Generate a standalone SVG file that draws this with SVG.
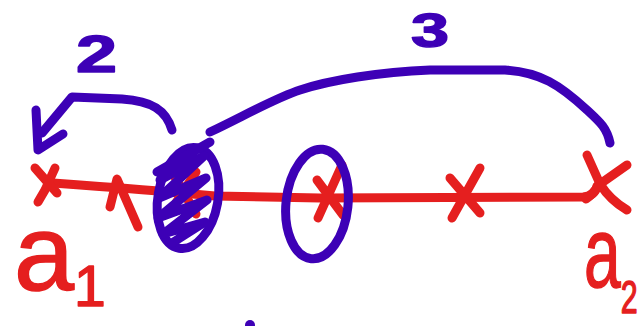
<svg xmlns="http://www.w3.org/2000/svg" width="642" height="326" viewBox="0 0 642 326">
  <style>
    .red { fill: none; stroke: #e51f1f; stroke-width: 9; stroke-linecap: round; stroke-linejoin: round; }
    .blue { fill: none; stroke: #3d00b6; stroke-width: 9; stroke-linecap: round; stroke-linejoin: round; }
    .lbl-red { fill: #e51f1f; stroke: #e51f1f; stroke-width: 1.5; stroke-linejoin: round; font-family: "Liberation Sans", Arial, sans-serif; }
    .lbl-blue { fill: #3d00b6; stroke: #3d00b6; stroke-width: 1.5; stroke-linejoin: round; font-family: "Liberation Sans", Arial, sans-serif; font-weight: bold; }
  </style>
  <rect width="642" height="326" fill="#ffffff"/>

  <g id="connectors">
    <path id="axis" class="red" d="M53,183 Q150,190 215,196 L320,198 L583,197 Q595,196 597,186"/>
    <path id="jump-2" class="blue" d="M172,130 C166,110 152,101 122,99 L72,97 L42,133"/>
    <path id="jump-2-head" class="blue" d="M36,110 L38,150 L63,134"/>
    <path id="jump-3" class="blue" d="M210,132 C240,118 275,98 300,90 C330,80 380,72 430,70 L505,70 C540,72 560,85 587,110 C600,122 607,128 610,143"/>
  </g>

  <g id="node-a1">
    <path class="red" d="M35,168 L57,193 M55,168 L45,190 L38,202"/>
  </g>
  <g id="node-p2">
    <path class="red" d="M110,207 L117,179 L138,227"/>
  </g>
  <g id="node-p3">
    <path class="red" d="M172,172 L196,214 M196,172 L170,212"/>
    <ellipse class="blue" cx="188" cy="198" rx="30" ry="51" transform="rotate(10 188 198)"/>
    <path class="blue" stroke-width="11" d="M157,172 L210,142 M160,180 L204,156 L159,198 L206,178 L158,218 L207,200 L163,234 L205,222 L172,243"/>
  </g>
  <g id="node-p4">
    <path class="red" d="M342,165 L318,218 M317,180 L343,215"/>
    <ellipse class="blue" stroke-width="8" cx="317" cy="204" rx="31" ry="55" transform="rotate(6 317 204)"/>
  </g>
  <g id="node-p5">
    <path class="red" d="M480,168 L452,218 M450,178 L480,213"/>
  </g>
  <g id="node-a2">
    <path class="red" d="M587,155 L600,184 Q610,200 627,210 M627,165 L600,184 Q592,195 586,199"/>
  </g>

  <circle id="dot" cx="250" cy="325" r="5" fill="#3d00b6"/>

  <g id="labels">
    <text class="lbl-blue" x="76" y="72" font-size="52" textLength="41" lengthAdjust="spacingAndGlyphs">2</text>
    <text class="lbl-blue" x="411" y="47" font-size="49" textLength="38" lengthAdjust="spacingAndGlyphs">3</text>
    <text class="lbl-red" x="14" y="290" font-size="108">a<tspan font-size="57" dy="16">1</tspan></text>
    <text class="lbl-red" transform="translate(584,287) scale(0.66,1)" x="0" y="0" font-size="100">a<tspan font-size="46" dy="26">2</tspan></text>
  </g>
</svg>
